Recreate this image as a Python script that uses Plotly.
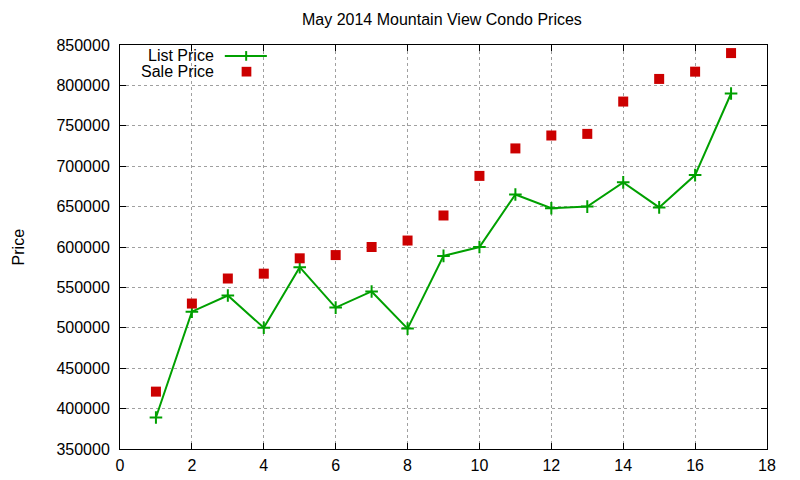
import plotly.graph_objects as go

# data
months = list(range(1, 18))
list_price = [389000, 520000, 540000, 500000, 575000, 525000, 545000, 499000,
              589000, 600000, 665000, 648000, 650000, 680000, 649000, 689000, 790000]
sale_price = [421000, 530000, 561000, 567000, 586000, 590000, 600000, 608000,
              639000, 688000, 722000, 738000, 740000, 780000, 808000, 817000, 840000]

x_ticks = list(range(0, 20, 2))
y_ticks = list(range(350000, 900000, 50000))

GREEN = '#00a000'
RED = '#cc0000'
FONT = 'Liberation Sans, Arial, sans-serif'

fig = go.Figure()

fig.add_trace(go.Scatter(
    x=months, y=list_price, mode='lines+markers', name='List Price',
    line=dict(color=GREEN, width=2),
    marker=dict(symbol='cross-thin', size=9, line=dict(color=GREEN, width=2)),
    showlegend=False,
))

fig.add_trace(go.Scatter(
    x=months, y=sale_price, mode='markers', name='Sale Price',
    marker=dict(symbol='square', size=10, color=RED),
    showlegend=False,
))

# gnuplot style key: text on the left, sample on the right
fig.add_annotation(xref='paper', yref='paper', x=0.148, y=0.973, text='List Price',
                   showarrow=False, xanchor='right', yanchor='middle',
                   font=dict(size=16, color='black', family=FONT))
fig.add_annotation(xref='paper', yref='paper', x=0.148, y=0.934, text='Sale Price',
                   showarrow=False, xanchor='right', yanchor='middle',
                   font=dict(size=16, color='black', family=FONT))
fig.add_shape(type='line', xref='paper', yref='paper', x0=0.162, x1=0.227, y0=0.973, y1=0.973,
              line=dict(color=GREEN, width=2))
fig.add_shape(type='line', xref='paper', yref='paper', x0=0.195, x1=0.195, y0=0.961, y1=0.985,
              line=dict(color=GREEN, width=2))
fig.add_shape(type='rect', xref='paper', yref='paper', x0=0.188, x1=0.203, y0=0.922, y1=0.946,
              line=dict(width=0), fillcolor=RED)

# y axis label and title placed by hand, gnuplot style
fig.add_annotation(xref='paper', yref='paper', x=-0.157, y=0.5, text='Price', textangle=-90,
                   showarrow=False, xanchor='center', yanchor='middle',
                   font=dict(size=16, color='black', family=FONT))
fig.add_annotation(xref='paper', yref='paper', x=0.498, y=1.064, text='May 2014 Mountain View Condo Prices',
                   showarrow=False, xanchor='center', yanchor='middle',
                   font=dict(size=16, color='black', family=FONT))

axis_common = dict(
    showline=True, linecolor='black', linewidth=1, mirror='ticks',
    ticks='inside', ticklen=6, tickcolor='black',
    showgrid=True, gridcolor='#a0a0a0', griddash='dot', gridwidth=1,
    zeroline=False, tickfont=dict(size=16, color='black', family=FONT),
    automargin=False,
)

fig.update_xaxes(range=[0, 18], tickvals=x_ticks, ticklabelstandoff=2, **axis_common)
fig.update_yaxes(range=[350000, 850000], tickvals=y_ticks, tickformat='d',
                 ticklabelstandoff=6, **axis_common)

# the page body adds an 8px offset, so margins are shifted to compensate
fig.update_layout(
    width=800, height=480,
    margin=dict(l=112, r=41, t=37, b=39),
    paper_bgcolor='white', plot_bgcolor='white',
    font=dict(family=FONT, color='black'),
)

fig.write_html('out.html')
